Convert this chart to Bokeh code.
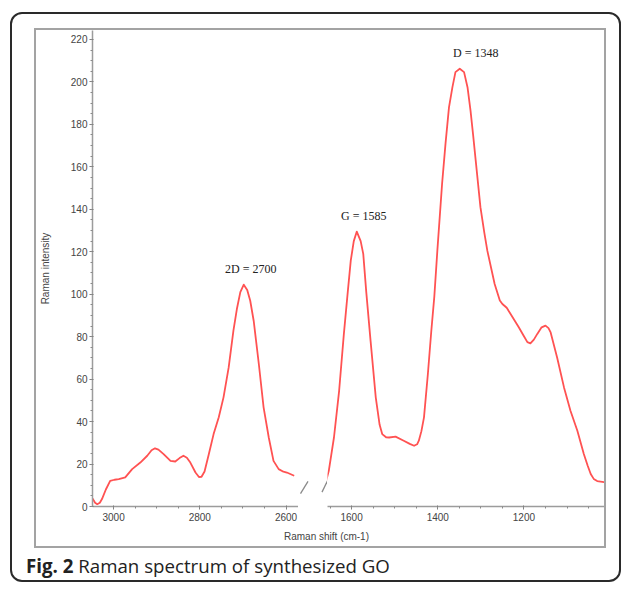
from bokeh.plotting import figure
from bokeh.models import Range1d, SingleIntervalTicker, Div, Spacer
from bokeh.layouts import row, column
from bokeh.embed import file_html
from bokeh.resources import INLINE
from bokeh.core.properties import value

# ---------------- data ----------------
left_x = [3049, 3043, 3038, 3032, 3027, 3018, 3008, 2998, 2988, 2973, 2957,
          2938, 2922, 2912, 2904, 2896, 2884, 2868, 2857, 2847, 2838, 2830,
          2822, 2810, 2802, 2796, 2789, 2779, 2768, 2756, 2745, 2733, 2722,
          2714, 2706, 2698, 2690, 2683, 2675, 2663, 2652, 2640, 2629, 2617,
          2606, 2598, 2581]
left_y = [3.8, 1.8, 1.1, 1.8, 3.5, 8.0, 12.1, 12.6, 12.9, 13.7, 17.6,
          20.7, 23.9, 26.5, 27.4, 26.8, 24.7, 21.5, 21.2, 22.8, 23.9, 23.0,
          20.7, 16.0, 13.9, 14.0, 16.5, 24.7, 34.1, 42.0, 51.4, 65.5, 82.8,
          93.0, 101.0, 104.5, 102.0, 96.9, 87.5, 67.0, 46.7, 32.5, 21.5, 17.6,
          16.4, 16.0, 14.5]

right_x = [1660, 1653, 1641, 1629, 1618, 1609, 1602, 1595, 1588, 1579, 1573,
           1566, 1556, 1544, 1535, 1529, 1520, 1513, 1498, 1479, 1465, 1455,
           1448, 1444, 1438, 1432, 1423, 1415, 1408, 1401, 1390, 1382, 1374,
           1366, 1359, 1349, 1339, 1331, 1324, 1318, 1312, 1301, 1292, 1285,
           1268, 1256, 1250, 1240, 1231, 1212, 1200, 1192, 1185, 1177, 1169,
           1159, 1150, 1143, 1138, 1123, 1107, 1092, 1076, 1061, 1052, 1045,
           1038, 1030, 1014]
right_y = [11.3, 16.8, 32.5, 54.5, 81.3, 101.0, 115.8, 125.0, 129.5, 125.0, 119.0,
           101.0, 78.0, 51.4, 38.5, 34.1, 32.6, 32.5, 32.9, 31.0, 29.5, 28.6,
           29.3, 31.0, 35.5, 42.0, 62.4, 82.8, 99.0, 120.5, 152.0, 171.0, 188.0,
           197.5, 204.6, 206.2, 204.6, 197.5, 186.5, 175.0, 163.0, 141.0, 129.0, 120.5,
           104.8, 97.0, 95.4, 93.6, 90.7, 84.4, 80.2, 77.4, 76.8, 78.6, 81.3,
           84.4, 85.2, 84.0, 82.0, 70.2, 56.1, 45.1, 35.7, 24.7, 19.2, 15.3,
           13.0, 12.0, 11.5]

peak_names = ["2D = 2700", "G = 1585", "D = 1348"]
peak_x = [2698, 1588, 1349]
peak_y = [104.5, 129.5, 206.2]

# axis-break strokes, drawn in the narrow gap panel (x in gap pixels, y in intensity units)
break_x0 = [2.0, 23.5]
break_x1 = [9.5, 29.0]
break_y0 = [-3.7, -3.0]
break_y1 = [2.3, 2.6]

left_window = (3049, 2571)
right_window = (1656, 1013)
gap_window = (0, 29)
y_window = (0, 224.2)
gap_y_window = (-10.07, 224.2)

x_label = "Raman shift (cm-1)"
y_label = "Raman intensity"
caption_bold = "Fig. 2"
caption_text = "Raman spectrum of synthesized GO"

LINE = "#ff5252"
AXIS = "#9c9c9c"
TXT = "#444444"
BOX = "#a3a3a3"


def style_axis(ax):
    ax.axis_line_color = AXIS
    ax.axis_line_width = 1.5
    ax.major_tick_line_color = "#7a7a7a"
    ax.major_tick_out = 3
    ax.major_tick_in = 1
    ax.minor_tick_line_color = "#8a8a8a"
    ax.minor_tick_out = 2
    ax.minor_tick_in = 0
    ax.major_label_text_font = "Liberation Sans"
    ax.major_label_text_font_size = "10px"
    ax.major_label_text_color = TXT


def clean(p):
    p.outline_line_color = None
    p.xgrid.visible = False
    p.ygrid.visible = False
    p.background_fill_color = "white"
    p.border_fill_color = "white"


def base_fig(width, xr, mbl, mbr, with_y):
    p = figure(width=width, height=497, x_range=Range1d(*xr),
               y_range=Range1d(*y_window), output_backend="svg",
               toolbar_location=None, min_border_left=mbl,
               min_border_right=mbr, min_border_top=0, min_border_bottom=21,
               y_axis_location="left" if with_y else None, margin=0)
    clean(p)
    xa = p.xaxis[0]
    xa.ticker = SingleIntervalTicker(interval=200, num_minor_ticks=4)
    style_axis(xa)
    xa.major_label_standoff = 3
    return p


p1 = base_fig(262, left_window, 56, 0, True)
ya = p1.yaxis[0]
ya.ticker = SingleIntervalTicker(interval=20, num_minor_ticks=4)
style_axis(ya)
ya.major_label_standoff = 2
ya.axis_label = y_label
ya.axis_label_text_font = "Liberation Sans"
ya.axis_label_text_font_size = "10px"
ya.axis_label_text_font_style = "normal"
ya.axis_label_text_color = TXT
ya.axis_label_standoff = 17

p2 = base_fig(277, right_window, 0, 0, False)

# narrow panel holding the axis-break marks
pg = figure(width=29, height=497, x_range=Range1d(*gap_window),
            y_range=Range1d(*gap_y_window), output_backend="svg",
            toolbar_location=None, min_border=0, x_axis_location=None,
            y_axis_location=None, margin=0)
clean(pg)
pg.segment(x0=break_x0, y0=break_y0, x1=break_x1, y1=break_y1,
           line_color="#8a8a8a", line_width=1.3)

p1.line(left_x, left_y, line_color=LINE, line_width=1.8, line_join="round")
p2.line(right_x, right_y, line_color=LINE, line_width=1.8, line_join="round")

label_kw = dict(text_font=value("Liberation Serif"), text_font_size="12px",
                text_align="center", text_baseline="middle", text_color="#222222",
                y_offset=-16)
p1.text(x=peak_x[:1], y=peak_y[:1], text=peak_names[:1], x_offset=7, **label_kw)
p2.text(x=peak_x[1:2], y=peak_y[1:2], text=peak_names[1:2], x_offset=7, **label_kw)
p2.text(x=peak_x[2:], y=peak_y[2:], text=peak_names[2:], x_offset=16, **label_kw)

xlab = Div(text=x_label, width=568, height=19, margin=0,
           styles={"font-family": "Liberation Sans", "font-size": "10px",
                   "color": TXT, "line-height": "19px",
                   "padding-left": "248px", "box-sizing": "border-box"})

content = column(row(p1, pg, p2, margin=0), xlab, margin=0)


def hline():
    return Spacer(width=572, height=2, margin=0, styles={"background-color": BOX})


def vline():
    return Spacer(width=2, height=516, margin=0, styles={"background-color": BOX})


box = column(hline(), row(vline(), content, vline(), margin=0), hline(), margin=0)

caption = Div(text="<b>%s</b> %s" % (caption_bold, caption_text),
              width=607, height=32, margin=0,
              styles={"font-family": "Open Sans", "font-size": "18.7px",
                      "color": "#222222", "line-height": "19px",
                      "padding-top": "8px", "padding-left": "14px",
                      "box-sizing": "border-box", "white-space": "nowrap"})

outer = column(Spacer(width=607, height=14, margin=0),
               row(Spacer(width=22, height=520, margin=0), box, margin=0),
               caption, margin=0,
               styles={"border": "2px solid #2a2a2a", "border-radius": "12px"})

page = column(Spacer(width=10, height=12, margin=0),
              row(Spacer(width=10, height=10, margin=0), outer, margin=0),
              margin=0)

open("out.html", "w").write(file_html(page, INLINE))
